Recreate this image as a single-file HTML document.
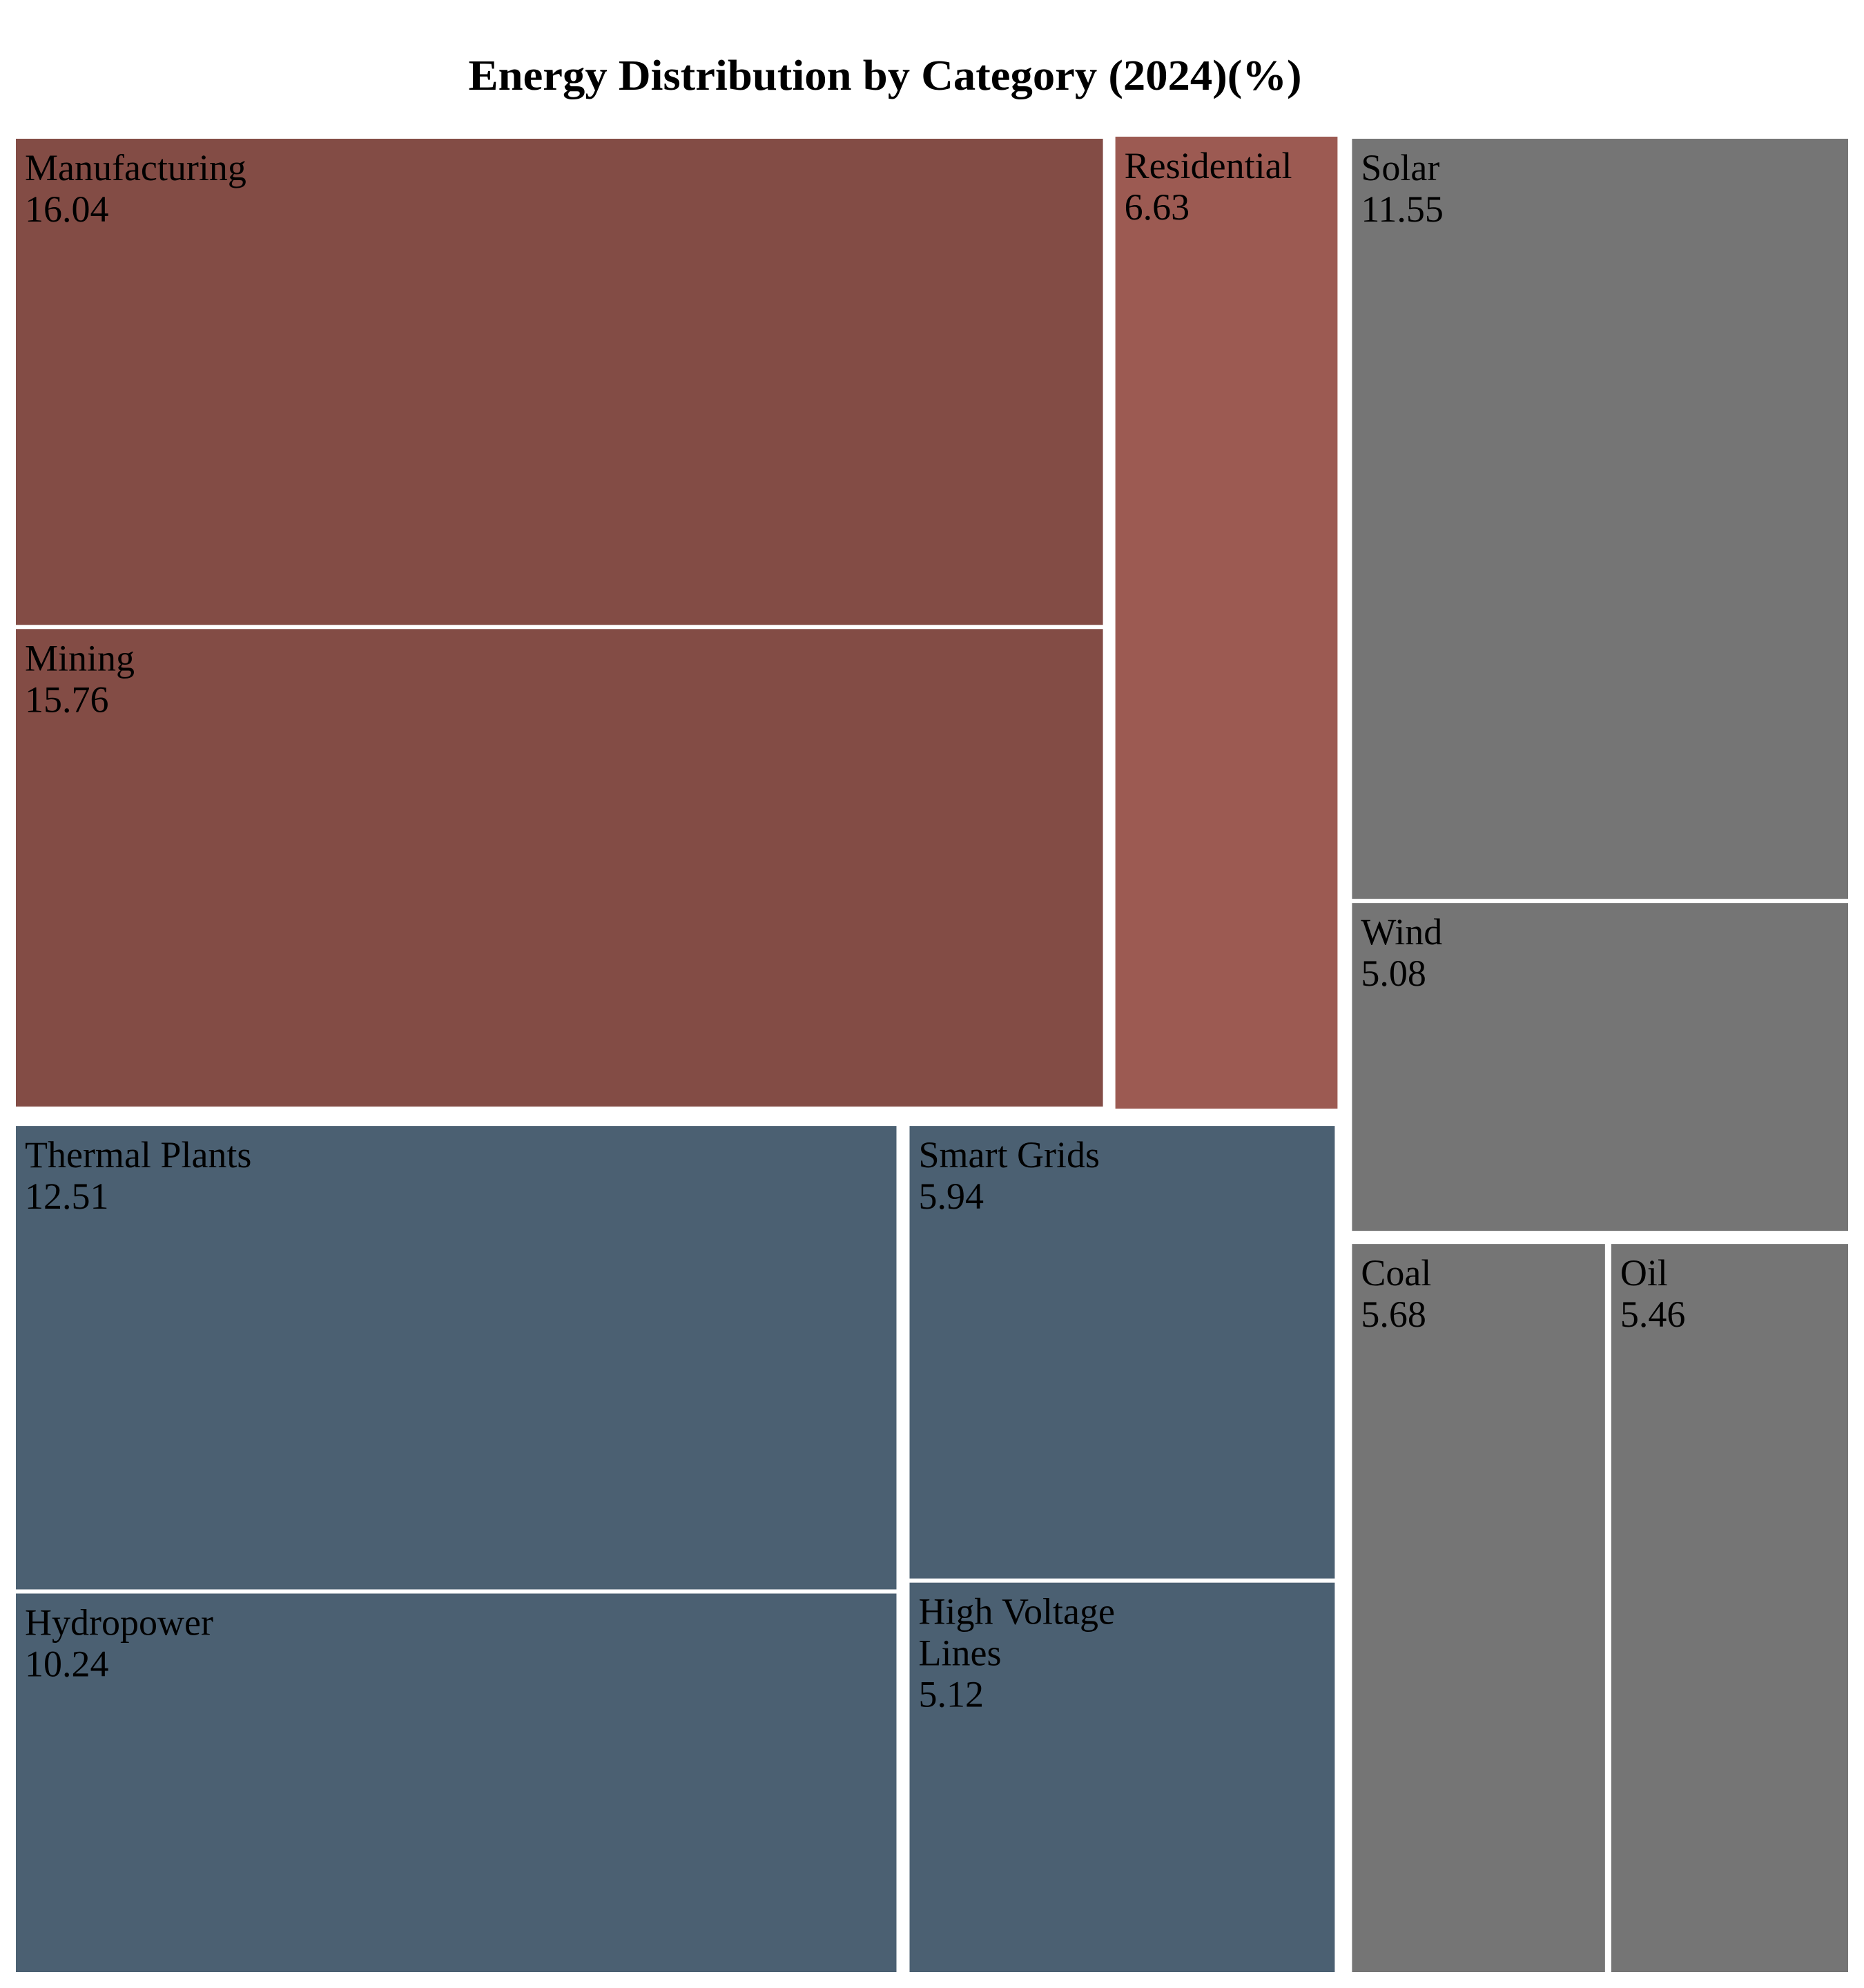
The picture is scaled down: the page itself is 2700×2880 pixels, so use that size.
<!DOCTYPE html>
<html>
<head>
<meta charset="utf-8">
<style>
  html,body{margin:0;padding:0;background:#fff;}
  svg{display:block;}
  text{font-family:"Liberation Serif","Times New Roman",serif;}
</style>
</head>
<body>
<svg id="chart" width="2700" height="2880" viewBox="0 0 2700 2880" xmlns="http://www.w3.org/2000/svg">
  <rect x="0" y="0" width="2700" height="2880" fill="#ffffff"/>
  <text x="1282" y="130" text-anchor="middle" font-size="62" font-weight="bold" fill="#000" textLength="1207" lengthAdjust="spacingAndGlyphs">Energy Distribution by Category (2024)(%)</text>
  <g id="tiles"></g>
</svg>
<script>
// Data
const industryLabels = ["Manufacturing", "Mining", "Residential"];
const industryValues = [16.04, 15.76, 6.63];
const gridLabels = ["Thermal Plants", "Hydropower", "Smart Grids", "High Voltage Lines"];
const gridValues = [12.51, 10.24, 5.94, 5.12];
const energyLabels = ["Solar", "Wind", "Coal", "Oil"];
const energyValues = [11.55, 5.08, 5.68, 5.46];

const C_IND = "#834C45", C_RES = "#9C5A52", C_GRID = "#4B6072", C_EN = "#757575";
const X0 = 20, X1 = 2680, Y0 = 198, Y1 = 2860;
const sum = a => a.reduce((s, v) => s + v, 0);
const g = document.getElementById('tiles');
const NS = "http://www.w3.org/2000/svg";

function tile(label, value, r, color, name) {
  const pad = 3;
  const x = r.x + pad, y = r.y + pad, w = r.w - 2 * pad, h = r.h - 2 * pad;
  const grp = document.createElementNS(NS, 'g');
  
  
  const rect = document.createElementNS(NS, 'rect');
  rect.setAttribute('x', x); rect.setAttribute('y', y);
  rect.setAttribute('width', Math.max(0, w)); rect.setAttribute('height', Math.max(0, h));
  rect.setAttribute('fill', color);
  
  
  grp.appendChild(rect);
  const lines = [];
  const maxW = (w - 32) * 0.6;
  const approx = s => s.length * 23;
  if (approx(label) > maxW && label.includes(' ')) {
    const words = label.split(' ');
    let cur = "";
    words.forEach(wd => {
      const t = cur ? cur + " " + wd : wd;
      if (approx(t) > maxW && cur) { lines.push(cur); cur = wd; } else cur = t;
    });
    lines.push(cur);
  } else lines.push(label);
  lines.push(value.toFixed(2));
  lines.forEach((ln, i) => {
    const t = document.createElementNS(NS, 'text');
    t.setAttribute('x', x + 13);
    t.setAttribute('y', y + 60 + i * 60);
    t.setAttribute('font-size', '54');
    t.setAttribute('fill', '#000');
    
    
    t.textContent = ln;
    grp.appendChild(t);
  });
  g.appendChild(grp);
}
const slug = s => s.toLowerCase().replace(/\s+/g, '-') + '-tile';

const total = sum(industryValues) + sum(gridValues) + sum(energyValues);
const W = X1 - X0, H = Y1 - Y0;
const leftW = W * (sum(industryValues) + sum(gridValues)) / total;
const left = {x: X0, y: Y0, w: leftW, h: H};
const right = {x: X0 + leftW + 14, y: Y0, w: W - leftW - 14, h: H};

const indH = left.h * sum(industryValues) / (sum(industryValues) + sum(gridValues));
const ind = {x: left.x, y: left.y, w: left.w - 4, h: indH - 8};
const grid = {x: left.x, y: left.y + indH + 14, w: left.w - 5, h: left.h - indH - 14};

(function(){
  const colSum = industryValues[0] + industryValues[1];
  const cw = ind.w * colSum / sum(industryValues);
  const h0 = ind.h * industryValues[0] / colSum;
  tile(industryLabels[0], industryValues[0], {x: ind.x, y: ind.y, w: cw - 6, h: h0}, C_IND, slug(industryLabels[0]));
  tile(industryLabels[1], industryValues[1], {x: ind.x, y: ind.y + h0, w: cw - 6, h: ind.h - h0}, C_IND, slug(industryLabels[1]));
  tile(industryLabels[2], industryValues[2], {x: ind.x + cw + 6, y: ind.y - 3, w: ind.w - cw - 6 + 3, h: ind.h + 6}, C_RES, slug(industryLabels[2]));
})();

(function(){
  const c1 = gridValues[0] + gridValues[1], c2 = gridValues[2] + gridValues[3];
  const cw = grid.w * c1 / (c1 + c2);
  const h0 = grid.h * gridValues[0] / c1;
  const h2 = grid.h * gridValues[2] / c2;
  tile(gridLabels[0], gridValues[0], {x: grid.x, y: grid.y, w: cw - 8, h: h0}, C_GRID, slug(gridLabels[0]));
  tile(gridLabels[1], gridValues[1], {x: grid.x, y: grid.y + h0, w: cw - 8, h: grid.h - h0}, C_GRID, slug(gridLabels[1]));
  tile(gridLabels[2], gridValues[2], {x: grid.x + cw + 5, y: grid.y, w: grid.w - cw - 5, h: h2}, C_GRID, slug(gridLabels[2]));
  tile(gridLabels[3], gridValues[3], {x: grid.x + cw + 5, y: grid.y + h2, w: grid.w - cw - 5, h: grid.h - h2}, C_GRID, slug(gridLabels[3]));
})();

(function(){
  const top = energyValues[0] + energyValues[1], bot = energyValues[2] + energyValues[3];
  const th = right.h * top / (top + bot);
  const h0 = th * energyValues[0] / top;
  tile(energyLabels[0], energyValues[0], {x: right.x, y: right.y, w: right.w, h: h0}, C_EN, slug(energyLabels[0]));
  tile(energyLabels[1], energyValues[1], {x: right.x, y: right.y + h0, w: right.w, h: th - h0 - 6}, C_EN, slug(energyLabels[1]));
  const by = right.y + th + 7, bh = right.h - th - 7;
  const cw = right.w * energyValues[2] / bot;
  tile(energyLabels[2], energyValues[2], {x: right.x, y: by, w: cw + 3, h: bh}, C_EN, slug(energyLabels[2]));
  tile(energyLabels[3], energyValues[3], {x: right.x + cw + 6, y: by, w: right.w - cw - 6, h: bh}, C_EN, slug(energyLabels[3]));
})();
</script>
</body>
</html>
